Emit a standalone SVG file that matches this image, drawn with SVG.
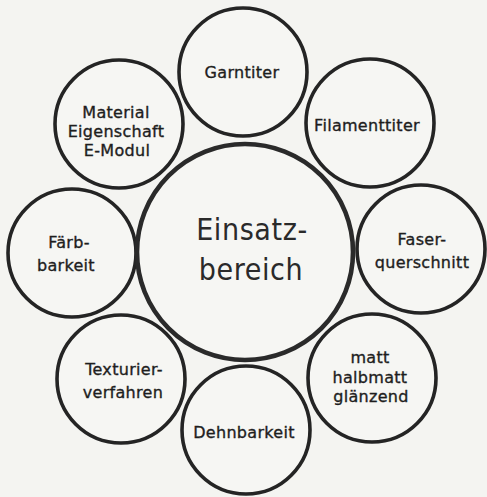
<svg xmlns="http://www.w3.org/2000/svg" width="487" height="497" viewBox="0 0 487 497">
<style>
.bg{fill:#f4f4f1}
.c{fill:#f6f6f3;stroke:#242424;stroke-width:3.6}
.big{fill:#f6f6f3;stroke:#2a2a2a;stroke-width:4.6}
.t{font-family:"DejaVu Sans","Liberation Sans",sans-serif;font-size:16px;fill:#1e1e1e;stroke:#1e1e1e;stroke-width:0.35px;text-anchor:middle;letter-spacing:0.3px}
.bt{font-family:"DejaVu Sans Condensed","DejaVu Sans","Liberation Sans",sans-serif;font-stretch:condensed;font-size:30px;fill:#2a2a2a;text-anchor:middle;letter-spacing:0.6px}
</style>
<rect class="bg" x="0" y="0" width="487" height="497"/>
<g id="garntiter"><circle class="c" cx="243" cy="72" r="64"/><text class="t" x="242" y="78">Garntiter</text></g>
<g id="filamenttiter"><circle class="c" cx="370" cy="123" r="64"/><text class="t" x="367" y="131">Filamenttiter</text></g>
<g id="faserquerschnitt"><circle class="c" cx="421" cy="249" r="64"/><text class="t" x="422" y="245">Faser-</text><text class="t" x="422" y="268">querschnitt</text></g>
<g id="matt"><circle class="c" cx="372" cy="378" r="64"/><text class="t" x="370" y="363">matt</text><text class="t" x="370" y="383">halbmatt</text><text class="t" x="371" y="402">glänzend</text></g>
<g id="dehnbarkeit"><circle class="c" cx="246" cy="430" r="64"/><text class="t" x="244" y="438">Dehnbarkeit</text></g>
<g id="texturierverfahren"><circle class="c" cx="121" cy="379" r="64"/><text class="t" x="124" y="375">Texturier-</text><text class="t" x="123" y="398">verfahren</text></g>
<g id="faerbbarkeit"><circle class="c" cx="72" cy="253" r="64"/><text class="t" x="69" y="248">Färb-</text><text class="t" x="66" y="271">barkeit</text></g>
<g id="material"><circle class="c" cx="119" cy="124" r="64"/><text class="t" x="116" y="118">Material</text><text class="t" x="116" y="137">Eigenschaft</text><text class="t" x="117" y="156">E-Modul</text></g>
<g id="einsatzbereich"><circle class="big" cx="245" cy="252" r="108"/><text class="bt" x="252" y="240">Einsatz-</text><text class="bt" x="251" y="280">bereich</text></g>
</svg>
